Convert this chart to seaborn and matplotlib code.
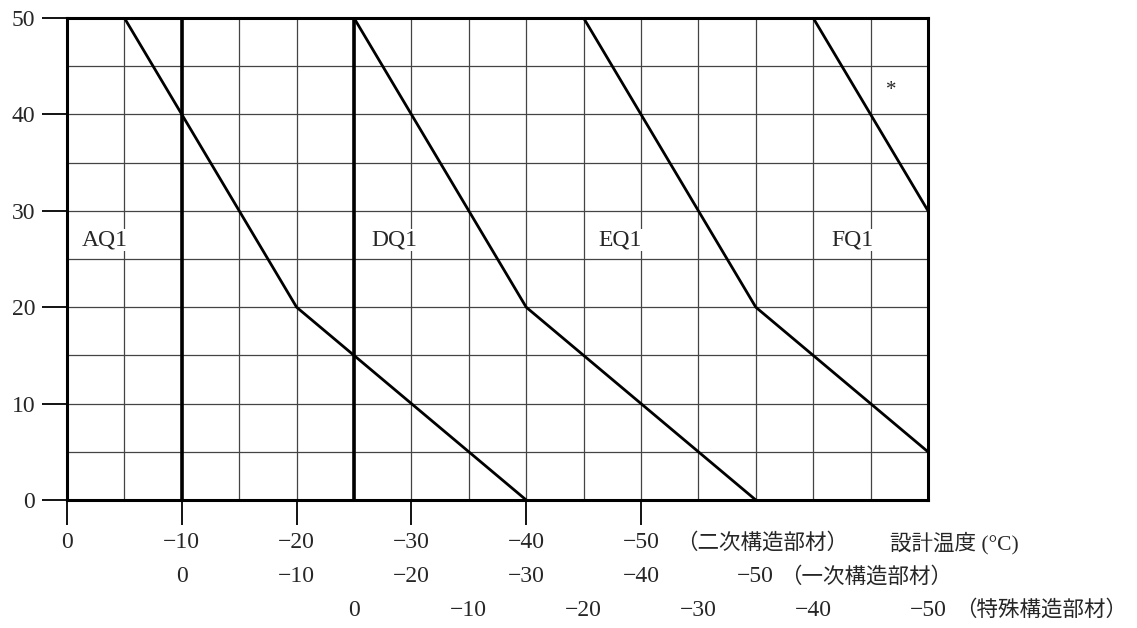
import matplotlib
matplotlib.use("Agg")
import matplotlib.pyplot as plt
import matplotlib.transforms as mtransforms
import seaborn as sns
import pandas as pd

# ---- data (secondary-member design temperature, plate thickness) ----
aq1_temp = [-5, -10, -15, -20, -25, -30, -35, -40]
aq1_thk = [50, 40, 30, 20, 15, 10, 5, 0]
dq1_temp = [-25, -30, -35, -40, -45, -50, -55, -60]
dq1_thk = [50, 40, 30, 20, 15, 10, 5, 0]
eq1_temp = [-45, -50, -55, -60, -65, -70, -75]
eq1_thk = [50, 40, 30, 20, 15, 10, 5]
fq1_temp = [-65, -70, -75]
fq1_thk = [50, 40, 30]

grade_labels = ["AQ1", "DQ1", "EQ1", "FQ1"]
grade_label_x = [-3.3, -28.5, -48.2, -68.4]
grade_label_y = [27, 27, 27, 27]

row1_ticks = [0, -10, -20, -30, -40, -50]
row1_labels = ["0", "−10", "−20", "−30", "−40", "−50"]
row2_pos = [-10, -20, -30, -40, -50, -60]
row2_labels = ["0", "−10", "−20", "−30", "−40", "−50"]
row3_pos = [-25, -35, -45, -55, -65, -75]
row3_labels = ["0", "−10", "−20", "−30", "−40", "−50"]
y_ticks = [0, 10, 20, 30, 40, 50]

frames = []
for name, t, h in [("AQ1", aq1_temp, aq1_thk), ("DQ1", dq1_temp, dq1_thk),
                   ("EQ1", eq1_temp, eq1_thk), ("FQ1", fq1_temp, fq1_thk)]:
    frames.append(pd.DataFrame({"grade": name, "temp": t, "thk": h}))
df = pd.concat(frames, ignore_index=True)

sns.set_style("white")
plt.rcParams["font.family"] = ["Liberation Serif", "Noto Sans CJK JP", "DejaVu Sans"]
plt.rcParams["axes.unicode_minus"] = True

FS = 17

fig = plt.figure(figsize=(11.37, 6.28), dpi=100)
ax = fig.add_axes([67 / 1137, 1 - 500 / 628, (928 - 67) / 1137, (500 - 18) / 628])

sns.lineplot(data=df, x="temp", y="thk", hue="grade",
             palette=["black"] * 4, estimator=None, sort=False,
             linewidth=2.0, legend=False, ax=ax, zorder=5)

ax.set_xlim(0, -75)
ax.set_ylim(0, 50)
ax.set_xticks(row1_ticks)
ax.set_xticklabels(row1_labels)
ax.set_xticks(list(range(0, -76, -5)), minor=True)
ax.set_yticks(y_ticks)
ax.set_yticks(list(range(0, 51, 5)), minor=True)
ax.grid(which="both", color="#444444", linewidth=0.9)
ax.tick_params(axis="x", which="major", bottom=True, direction="out", length=18,
               width=1.3, labelsize=FS, pad=5, color="black")
ax.tick_params(axis="x", which="minor", bottom=False, length=0)
ax.tick_params(axis="y", which="major", left=True, direction="out", length=18,
               width=1.3, labelsize=FS, pad=5, color="black")
ax.tick_params(axis="y", which="minor", left=False, length=0)
ax.set_xlabel("")
ax.set_ylabel("")
for s in ax.spines.values():
    s.set_color("black")
    s.set_linewidth(2.2)

ax.axvline(-10, color="black", linewidth=2.6, zorder=4)
ax.axvline(-25, color="black", linewidth=2.6, zorder=4)

for lab, x, y in zip(grade_labels, grade_label_x, grade_label_y):
    ax.text(x, y, lab, fontsize=FS, ha="center", va="center", zorder=6,
            bbox=dict(facecolor="white", edgecolor="none", pad=0.5))
ax.text(-71.8, 42.5, "*", fontsize=15, ha="center", va="center")

trans = mtransforms.blended_transform_factory(ax.transData, fig.transFigure)
row1_y = 1 - 543 / 628
row2_y = 1 - 577 / 628
row3_y = 1 - 610 / 628
for x, lab in zip(row2_pos, row2_labels):
    ax.text(x, row2_y, lab, transform=trans, fontsize=FS, ha="center", va="center",
            clip_on=False)
for x, lab in zip(row3_pos, row3_labels):
    ax.text(x, row3_y, lab, transform=trans, fontsize=FS, ha="center", va="center",
            clip_on=False)

JFS = 15.5
fig.text(676 / 1137, row1_y, "（二次構造部材）", fontsize=JFS, ha="left", va="center")
fig.text(890 / 1137, row1_y, "設計温度 (°C)", fontsize=JFS, ha="left", va="center")
fig.text(780 / 1137, row2_y, "（一次構造部材）", fontsize=JFS, ha="left", va="center")
fig.text(955 / 1137, row3_y, "（特殊構造部材）", fontsize=JFS, ha="left", va="center")

fig.savefig("out.png", dpi=100, facecolor="white")
